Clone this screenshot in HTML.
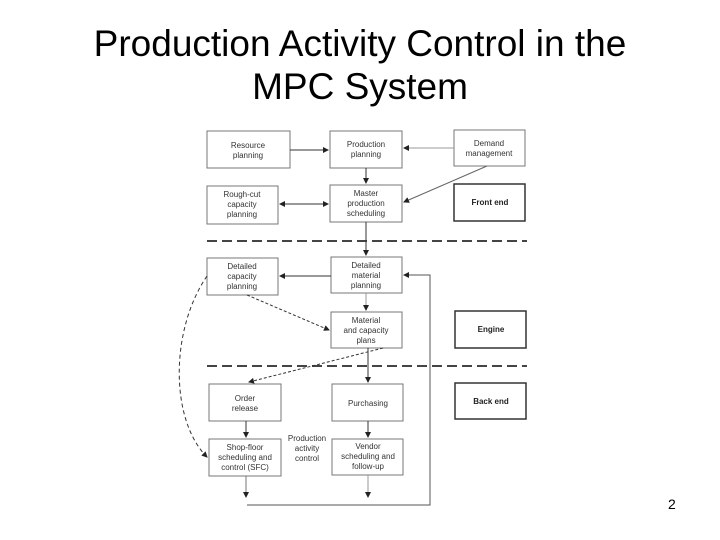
<!DOCTYPE html>
<html><head><style>
body{margin:0;width:720px;height:540px;background:#fff;overflow:hidden;font-family:"Liberation Sans",sans-serif}
h1{position:absolute;top:22px;left:0;width:720px;margin:0;text-align:center;font-weight:normal;font-size:37px;line-height:43px;color:#000}
.pg{position:absolute;left:668px;top:496px;font-size:14px}
</style></head><body>
<h1>Production Activity Control in the<br>MPC System</h1>
<svg width="720" height="540" style="position:absolute;left:0;top:0" font-family="Liberation Sans, sans-serif" font-size="8" fill="#333" text-anchor="middle">
<defs><marker id="a" markerWidth="6" markerHeight="6" refX="5" refY="3" orient="auto"><path d="M0,0L6,3L0,6z" fill="#222"/></marker>
<marker id="b" markerWidth="6" markerHeight="6" refX="1" refY="3" orient="auto"><path d="M6,0L0,3L6,6z" fill="#222"/></marker></defs>
<g fill="none" stroke="#777" stroke-width="1">
<rect x="207" y="131" width="83" height="37"/><rect x="330" y="131" width="72" height="37"/><rect x="454" y="130" width="71" height="36"/>
<rect x="207" y="186" width="71" height="38"/><rect x="330" y="185" width="72" height="37"/>
<rect x="207" y="258" width="71" height="37"/><rect x="331" y="257" width="71" height="36"/><rect x="331" y="312" width="71" height="36"/>
<rect x="209" y="384" width="72" height="37"/><rect x="332" y="384" width="71" height="37"/>
<rect x="209" y="439" width="72" height="37"/><rect x="332" y="439" width="71" height="36"/>
</g>
<g fill="none" stroke="#333" stroke-width="1.5">
<rect x="454" y="184" width="71" height="37"/><rect x="455" y="311" width="71" height="37"/><rect x="455" y="383" width="71" height="36"/>
</g>
<g stroke="#444" stroke-width="2" stroke-dasharray="10,5"><line x1="207" y1="241" x2="527" y2="241"/><line x1="207" y1="366" x2="527" y2="366"/></g>
<g stroke="#333" stroke-width="1" fill="none" marker-end="url(#a)">
<line x1="290" y1="150" x2="328" y2="150"/>
<line x1="454" y1="148" x2="404" y2="148" stroke="#999"/>
<line x1="366" y1="168" x2="366" y2="183"/>
<line x1="487" y1="166" x2="404" y2="202" stroke="#666"/>
<line x1="280" y1="204" x2="328" y2="204" marker-start="url(#b)"/>
<line x1="366" y1="222" x2="366" y2="255"/>
<line x1="331" y1="276" x2="280" y2="276"/>
<line x1="366" y1="293" x2="366" y2="310" stroke="#999"/>
<line x1="247" y1="295" x2="329" y2="330" stroke-dasharray="3,2"/>
<line x1="383" y1="348" x2="249" y2="382" stroke-dasharray="3,2"/>
<line x1="368" y1="348" x2="368" y2="382"/>
<line x1="246" y1="421" x2="246" y2="437"/>
<line x1="368" y1="421" x2="368" y2="437"/>
<line x1="246" y1="476" x2="246" y2="497" stroke="#777"/>
<line x1="368" y1="475" x2="368" y2="497" stroke="#999"/>
<polyline points="247,505 430,505 430,275 404,275" marker-end="url(#a)" stroke="#555"/>
<path d="M207,276 C170,330 170,420 207,457" stroke-dasharray="4,3"/>
</g>
<g>
<text x="248" y="148">Resource</text><text x="248" y="158">planning</text>
<text x="366" y="147">Production</text><text x="366" y="157">planning</text>
<text x="489" y="146">Demand</text><text x="489" y="156">management</text>
<text x="242" y="197">Rough-cut</text><text x="242" y="207">capacity</text><text x="242" y="217">planning</text>
<text x="366" y="196">Master</text><text x="366" y="206">production</text><text x="366" y="216">scheduling</text>
<text x="242" y="269">Detailed</text><text x="242" y="279">capacity</text><text x="242" y="289">planning</text>
<text x="366" y="268">Detailed</text><text x="366" y="278">material</text><text x="366" y="288">planning</text>
<text x="366" y="323">Material</text><text x="366" y="333">and capacity</text><text x="366" y="343">plans</text>
<text x="245" y="401">Order</text><text x="245" y="411">release</text>
<text x="368" y="406">Purchasing</text>
<text x="245" y="450">Shop-floor</text><text x="245" y="460">scheduling and</text><text x="245" y="470">control (SFC)</text>
<text x="368" y="449">Vendor</text><text x="368" y="459">scheduling and</text><text x="368" y="469">follow-up</text>
<text x="307" y="441">Production</text><text x="307" y="451">activity</text><text x="307" y="461">control</text>
<g font-weight="bold" fill="#222"><text x="490" y="205">Front end</text><text x="491" y="332">Engine</text><text x="491" y="404">Back end</text></g>
</g>
</svg>
<div class="pg">2</div>
</body></html>
